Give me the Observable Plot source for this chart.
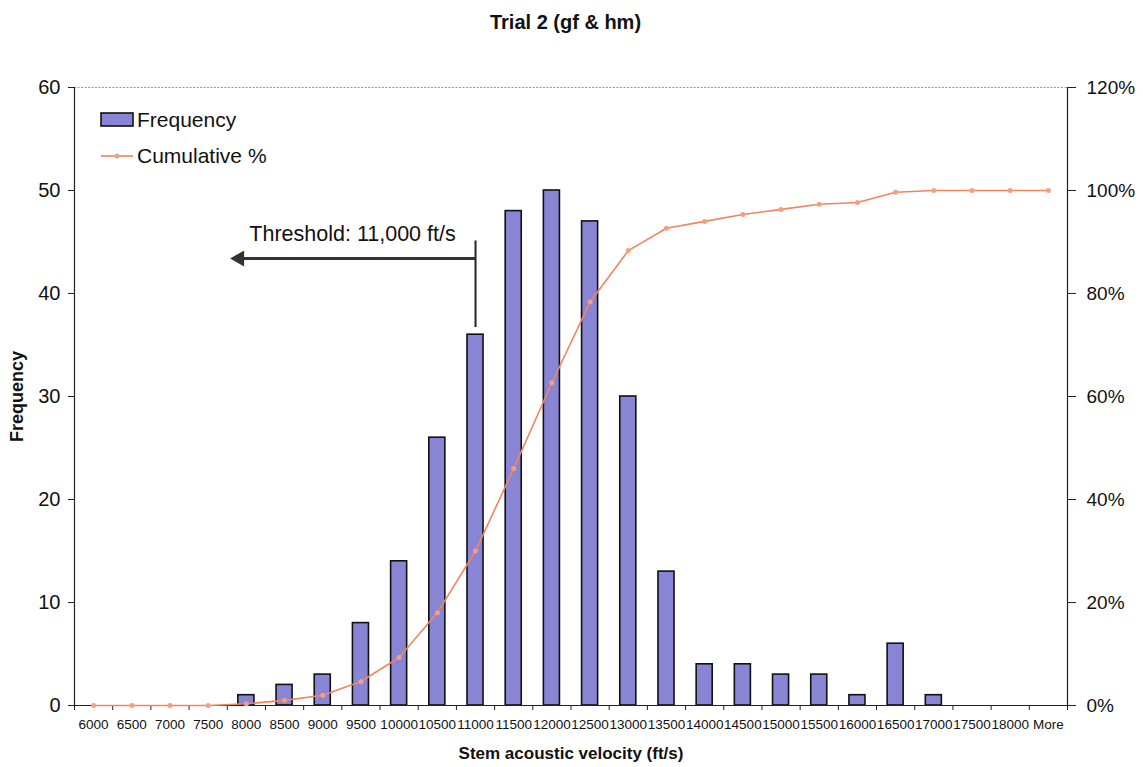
<!DOCTYPE html>
<html>
<head>
<meta charset="utf-8">
<script src="https://cdn.jsdelivr.net/npm/d3@7"></script>
<script src="https://cdn.jsdelivr.net/npm/@observablehq/plot@0.6"></script>
<style>
  body { margin: 0; background: #fff; font-family: "Liberation Sans", Arial, sans-serif; }
  #wrap { position: relative; width: 1143px; height: 767px; }
  #title { height: 40px; line-height: 44px; text-align: center; font-weight: bold; font-size: 20px; color: #111; padding-right: 12px; box-sizing: border-box; }
  .leg { position: absolute; font-size: 21px; color: #111; white-space: nowrap; }
</style>
</head>
<body>
<div id="wrap">
  <div id="title">Trial 2 (gf &amp; hm)</div>
  <div id="chart"></div>
  <div class="leg" style="left:100px; top:107px;">
    <svg width="34" height="16" style="vertical-align:middle"><rect x="1" y="1" width="32" height="13" fill="#8985d5" stroke="#111" stroke-width="1.6"/></svg><span style="margin-left:3px; vertical-align:middle">Frequency</span>
  </div>
  <div class="leg" style="left:100px; top:143px;">
    <svg width="34" height="16" style="vertical-align:middle"><line x1="1" y1="8" x2="33" y2="8" stroke="#f2845e" stroke-width="1.6"/><circle cx="17" cy="8" r="2.5" fill="#f4a080"/></svg><span style="margin-left:3px; vertical-align:middle">Cumulative %</span>
  </div>
</div>
<script>
// ---- data ----
const categories = ["6000","6500","7000","7500","8000","8500","9000","9500","10000","10500","11000","11500","12000","12500","13000","13500","14000","14500","15000","15500","16000","16500","17000","17500","18000","More"];
const frequency = [0,0,0,0,1,2,3,8,14,26,36,48,50,47,30,13,4,4,3,3,1,6,1,0,0,0];
const cumulativePct = [0,0,0,0,0.33,1,2,4.67,9.33,18,30,46,62.67,78.33,88.33,92.67,94,95.33,96.33,97.33,97.67,99.67,100,100,100,100];
const yTicks = [0,10,20,30,40,50,60];
const pctTicks = [0,20,40,60,80,100,120];
const thresholdLabel = ["Threshold: 11,000 ft/s"];
const thresholdCategory = ["11000"];
const arrowReachPosition = [3.62];   // arrow tip, in category-index units
const arrowLevel = [43.4];          // frequency units
const markerSpan = [36.7, 45.1];    // frequency units
const labelPos = [6.78, 45.8];

const data = categories.map((c, i) => ({cat: c, i, freq: frequency[i], cum: cumulativePct[i]}));
const tIdx = categories.indexOf(thresholdCategory[0]);
const boundaries = d3.range(categories.length + 1).map(k => k - 0.5);

const chart = Plot.plot({
  width: 1143,
  height: 727,
  marginTop: 47,
  marginBottom: 62,
  marginLeft: 74,
  marginRight: 76,
  style: {fontFamily: "'Liberation Sans', Arial, sans-serif", color: "#111", background: "#fff"},
  x: {domain: [-0.5, categories.length - 0.5], axis: null},
  y: {domain: [0, 60], axis: null},
  marks: [
    Plot.ruleY([60], {stroke: "#999", strokeDasharray: "2,1.5", strokeWidth: 1}),
    Plot.rectY(data.filter(d => d.freq > 0), {x1: d => d.i - 0.21, x2: d => d.i + 0.21, y1: 0, y2: "freq", fill: "#8985d5", stroke: "#111", strokeWidth: 1.6}),
    Plot.ruleX([-0.5], {stroke: "#222", strokeWidth: 1.2}),
    Plot.ruleX([categories.length - 0.5], {stroke: "#222", strokeWidth: 1.2}),
    Plot.ruleY([0], {stroke: "#222", strokeWidth: 1.2}),
    Plot.axisY(yTicks, {anchor: "left", tickSize: 6, tickPadding: 8, fontSize: 20, label: null, stroke: "#222"}),
    Plot.axisY(yTicks, {anchor: "right", tickSize: 8, tickPadding: 11, fontSize: 19, label: null, tickFormat: (d, k) => pctTicks[k] + "%", stroke: "#222"}),
    Plot.axisX(d3.range(categories.length), {tickSize: 0, tickPadding: 14, fontSize: 13.5, label: null, tickFormat: i => categories[i]}),
    Plot.axisX(boundaries, {tickSize: 5, tickFormat: () => "", label: null, stroke: "#222"}),
    Plot.line(data, {x: "i", y: d => d.cum / 2, stroke: "#f2845e", strokeWidth: 1.6}),
    Plot.dot(data, {x: "i", y: d => d.cum / 2, r: 2.5, fill: "#f4a080", stroke: "none"}),
    // threshold annotation
    Plot.ruleX([tIdx], {y1: markerSpan[0], y2: markerSpan[1], stroke: "#222", strokeWidth: 2}),
    Plot.link([0], {x1: tIdx, x2: arrowReachPosition[0] + 0.2, y1: arrowLevel[0], y2: arrowLevel[0], stroke: "#333", strokeWidth: 3}),
    Plot.dot([0], {x: arrowReachPosition[0] + 0.2, y: arrowLevel[0], symbol: "triangle", rotate: -90, r: 6, fill: "#333", stroke: "none"}),
    Plot.text(thresholdLabel, {x: labelPos[0], y: labelPos[1], fontSize: 21.5, fill: "#111"}),
    // axis titles
    Plot.text(["Frequency"], {frameAnchor: "left", textAnchor: "middle", dx: -57, rotate: -90, fontWeight: "bold", fontSize: 18, fill: "#111"}),
    Plot.text(["Stem acoustic velocity (ft/s)"], {frameAnchor: "bottom", dy: 53, fontWeight: "bold", fontSize: 17, fill: "#111"})
  ]
});
document.getElementById("chart").appendChild(chart);
</script>
</body>
</html>
